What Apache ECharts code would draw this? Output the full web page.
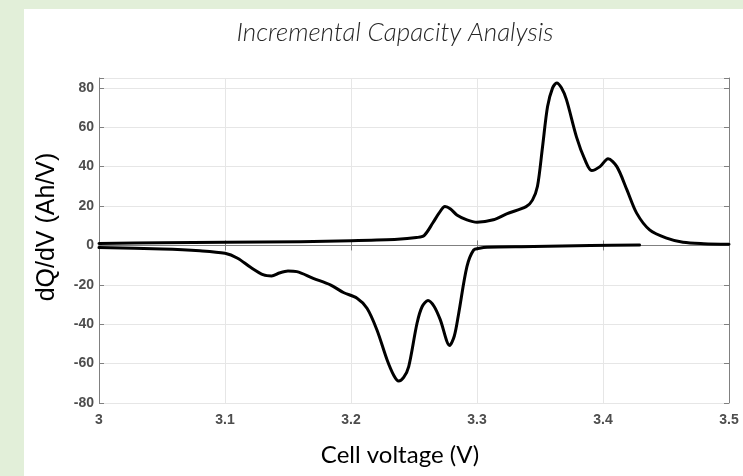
<!DOCTYPE html>
<html>
<head>
<meta charset="utf-8">
<title>Incremental Capacity Analysis</title>
<script src="https://cdn.jsdelivr.net/npm/echarts@6/dist/echarts.min.js"></script>
<style>
  html, body { margin: 0; padding: 0; }
  #main { width: 743px; height: 476px; }
</style>
</head>
<body>
<div id="main"></div>
<script>
// charge curve (upper)
var chargeV = [3.00, 3.05, 3.10, 3.16, 3.20, 3.237, 3.252, 3.258, 3.265, 3.270, 3.2746, 3.279, 3.284, 3.292, 3.300, 3.313, 3.3235, 3.339, 3.344, 3.348, 3.352, 3.356, 3.360, 3.3633, 3.367, 3.371, 3.379, 3.3857, 3.391, 3.3976, 3.404, 3.411, 3.419, 3.4267, 3.437, 3.4505, 3.4635, 3.48, 3.50];
var chargeQ = [1.0, 1.3, 1.6, 1.9, 2.4, 3.1, 4.0, 5.0, 11.5, 16.5, 19.7, 18.5, 15.5, 13.0, 11.8, 13.0, 16.0, 19.7, 23.0, 30.0, 50.0, 70.5, 80.0, 82.5, 80.0, 74.0, 55.0, 43.4, 38.0, 40.0, 44.0, 40.0, 28.2, 16.4, 7.9, 3.7, 1.6, 0.9, 0.6];

// discharge curve (lower)
var dischargeV = [3.00, 3.05, 3.08, 3.10, 3.11, 3.12, 3.1307, 3.137, 3.143, 3.150, 3.157, 3.170, 3.1836, 3.194, 3.2048, 3.2127, 3.2206, 3.2286, 3.234, 3.2378, 3.2418, 3.2458, 3.2524, 3.2565, 3.2611, 3.266, 3.2709, 3.2783, 3.282, 3.2855, 3.292, 3.2974, 3.302, 3.308, 3.345, 3.39, 3.429];
var dischargeQ = [-1.1, -1.8, -2.7, -4.0, -6.5, -11.0, -15.0, -15.5, -14.0, -13.0, -13.3, -16.7, -20.0, -23.9, -26.8, -31.9, -42.9, -58.0, -66.0, -68.8, -67.0, -61.5, -39.5, -31.0, -28.0, -31.0, -37.8, -50.8, -46.0, -34.4, -10.8, -2.3, -1.4, -0.9, -0.6, 0.0, 0.25];

var xTicks = { min: 3, max: 3.5, step: 0.1 };
var yTicks = { min: -80, max: 85, step: 20 };

function pairs(xs, ys) {
  return xs.map(function (x, i) { return [x, ys[i]]; });
}

var myChart = echarts.init(document.getElementById("main"));

var tickLabel = {
  color: "#4d4d4d",
  fontFamily: "Arial, 'Liberation Sans', sans-serif",
  fontWeight: "bold",
  fontSize: 14
};

var option = {
  backgroundColor: "#e2efd9",
  animation: false,
  graphic: [
    { type: "rect", left: 24, top: 9, shape: { width: 719, height: 467 }, style: { fill: "#ffffff" }, z: -10 },
    {
      type: "text", x: 395, y: 33,
      style: {
        text: "Incremental Capacity Analysis",
        fontFamily: "Lato, 'Open Sans', sans-serif",
        fontStyle: "italic", fontWeight: 300, fontSize: 26,
        fill: "#262626", align: "center", verticalAlign: "middle"
      }
    },
    {
      type: "text", x: 400, y: 455,
      style: {
        text: "Cell voltage (V)",
        fontFamily: "Lato, 'Open Sans', sans-serif",
        fontSize: 24, fill: "#000000", align: "center", verticalAlign: "middle"
      }
    },
    {
      type: "text", x: 47, y: 227, rotation: Math.PI / 2,
      style: {
        text: "dQ/dV (Ah/V)",
        fontFamily: "Arial, 'Liberation Sans', sans-serif",
        fontSize: 25, fill: "#000000", align: "center", verticalAlign: "middle"
      }
    }
  ],
  grid: { left: 99, top: 78, width: 630, height: 325 },
  xAxis: [
    {
      type: "value", min: xTicks.min, max: xTicks.max, interval: xTicks.step,
      axisLine: { lineStyle: { color: "#808080", width: 1 } },
      axisTick: { inside: true, length: 5, lineStyle: { color: "#808080" } },
      axisLabel: Object.assign({ margin: 10 }, tickLabel),
      splitLine: { show: true, lineStyle: { color: "#e6e6e6" } }
    },
    {
      type: "value", position: "top", min: xTicks.min, max: xTicks.max, interval: xTicks.step,
      axisLine: { lineStyle: { color: "#808080", width: 1 } },
      axisTick: { inside: true, length: 5, lineStyle: { color: "#808080" } },
      axisLabel: { show: false },
      splitLine: { show: false }
    }
  ],
  yAxis: [
    {
      type: "value", min: yTicks.min, max: yTicks.max, interval: yTicks.step,
      axisLine: { show: true, lineStyle: { color: "#808080", width: 1 } },
      axisTick: { show: true, inside: true, length: 5, lineStyle: { color: "#808080" } },
      axisLabel: Object.assign({
        margin: 5,
        formatter: function (v) { return v % 20 === 0 ? String(v) : ""; }
      }, tickLabel),
      splitLine: { show: true, lineStyle: { color: "#e6e6e6" } }
    },
    {
      type: "value", position: "right", min: yTicks.min, max: yTicks.max, interval: yTicks.step,
      axisLine: { show: true, lineStyle: { color: "#808080", width: 1 } },
      axisTick: { show: true, inside: true, length: 5, lineStyle: { color: "#808080" } },
      axisLabel: { show: false },
      splitLine: { show: false }
    }
  ],
  series: [
    {
      name: "charge", type: "line", data: pairs(chargeV, chargeQ),
      smooth: 0.3, showSymbol: false,
      lineStyle: { color: "#000000", width: 3, join: "round", cap: "round" }
    },
    {
      name: "discharge", type: "line", data: pairs(dischargeV, dischargeQ),
      smooth: 0.3, showSymbol: false,
      lineStyle: { color: "#000000", width: 3, join: "round", cap: "round" }
    }
  ]
};

myChart.setOption(option);
</script>
</body>
</html>
